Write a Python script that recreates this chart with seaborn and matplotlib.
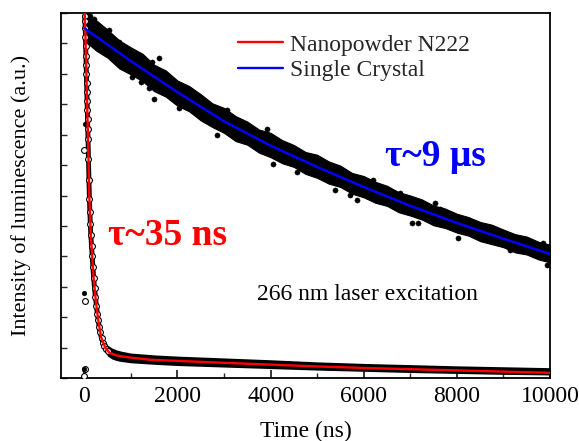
import numpy as np
import pandas as pd
import matplotlib
matplotlib.use("Agg")
import matplotlib.pyplot as plt
import seaborn as sns
from matplotlib.lines import Line2D
from matplotlib.ticker import MultipleLocator

# ---------------- data ----------------
# Single crystal fit (blue), time in ns, intensity in arbitrary units (0..12 axis)
sc_fit_t = [0, 1000, 2000, 3000, 4000, 5000, 6000, 7000, 8000, 9000, 10000]
sc_fit_v = [11.5, 10.42, 9.4, 8.44, 7.64, 6.94, 6.28, 5.66, 5.1, 4.58, 4.08]

# Single crystal data cloud: dense band edges, every 250 ns
sc_band_t = list(range(0, 10001, 250))
sc_band_hi = [12.0, 11.77, 11.45, 11.10, 10.87, 10.66, 10.30, 10.11, 9.78, 9.60,
              9.33, 9.03, 8.88, 8.61, 8.43, 8.17, 8.06, 7.82, 7.66, 7.43, 7.34,
              7.12, 6.98, 6.74, 6.64, 6.45, 6.32, 6.11, 6.00, 5.87, 5.67, 5.57,
              5.40, 5.29, 5.13, 5.04, 4.88, 4.73, 4.65, 4.48, 4.38]
sc_band_lo = [11.10, 10.77, 10.53, 10.18, 9.98, 9.76, 9.43, 9.25, 8.95, 8.77,
              8.47, 8.25, 8.06, 7.79, 7.67, 7.41, 7.26, 7.06, 6.94, 6.71, 6.58,
              6.39, 6.28, 6.06, 5.94, 5.76, 5.66, 5.45, 5.34, 5.21, 5.02, 4.93,
              4.78, 4.68, 4.50, 4.40, 4.30, 4.13, 4.06, 3.90, 3.80]
# scattered single-crystal points outside the dense band
sc_out_t = [538, 753, 1613, 1462, 1032, 1398, 1505, 1226, 2043, 2194, 2409, 2839,
            3054, 1828, 3914, 4043, 4559, 5376, 5699, 6194, 5849, 4796, 7032,
            7161, 7527, 7634, 8022, 8925, 9140, 9849, 9935, 6774, 60, 120, 200]
sc_out_v = [11.45, 11.05, 10.53, 10.39, 9.9, 9.54, 9.18, 9.74, 8.88, 9.38, 9.14,
            7.99, 8.82, 9.8, 8.19, 7.04, 6.78, 6.18, 6.02, 6.51, 5.86, 7.11, 5.1,
            5.1, 5.76, 5.56, 4.61, 4.8, 4.21, 4.44, 3.72, 6.09, 11.95, 11.9, 11.8]

# Nanopowder N222 fit (red)
np_fit_t = [0, 10, 20, 40, 70, 110, 140, 170, 200, 250, 300, 360, 450, 540, 700,
            900, 1400, 2200, 3000, 4000, 5000, 6000, 7000, 8000, 9000, 10000]
np_fit_v = [12.5, 11.9, 11.5, 10.3, 8.5, 5.9, 4.7, 4.0, 3.3, 2.5, 1.9, 1.35, 1.0,
            0.83, 0.74, 0.69, 0.6, 0.55, 0.5, 0.44, 0.38, 0.33, 0.29, 0.25, 0.21, 0.17]

# Nanopowder data (open circles) on the fast decay
np_pts_t = [10, 15, 20, 25, 30, 35, 40, 45, 50, 55, 60, 65, 70, 75, 80, 90, 100,
            110, 120, 130, 140, 155, 170, 185, 200, 220, 240, 260, 280, 300, 320,
            340, 370, 400, 430, 460, 500, 0, 20, 0, 10]
np_pts_v = [11.9, 11.75, 11.5, 11.2, 10.9, 10.6, 10.3, 10.0, 9.7, 9.4, 9.1, 8.8,
            8.5, 8.2, 7.85, 7.2, 6.5, 5.9, 5.45, 5.05, 4.7, 4.35, 4.0, 3.65, 3.3,
            2.95, 2.65, 2.38, 2.12, 1.9, 1.68, 1.5, 1.3, 1.16, 1.05, 0.96, 0.88,
            7.5, 2.53, 0.05, 0.3]
# stray filled points of the nanopowder record
np_dots_t = [0, 20, 0]
np_dots_v = [2.8, 8.36, 0.3]

# Nanopowder slow tail: dense band edges
np_band_t = [300, 400, 500, 600, 700, 800, 1000, 1500, 2000, 3000, 4000, 5000,
             6000, 7000, 8000, 9000, 10000]
np_band_hi = [2.1, 1.35, 1.08, 0.98, 0.92, 0.88, 0.82, 0.76, 0.72, 0.66, 0.6,
              0.53, 0.48, 0.44, 0.4, 0.37, 0.34]
np_band_lo = [1.7, 1.0, 0.72, 0.62, 0.57, 0.54, 0.5, 0.45, 0.41, 0.36, 0.31,
              0.26, 0.22, 0.18, 0.15, 0.12, 0.1]

x_ticks = [0, 2000, 4000, 6000, 8000, 10000]
legend_labels = ["Nanopowder N222", "Single Crystal"]

# ---------------- style ----------------
sns.set_theme(style="ticks")
plt.rcParams["font.family"] = ["Liberation Serif", "DejaVu Serif"]

fig = plt.figure(figsize=(5.79, 4.41), dpi=100)
ax = fig.add_axes([61 / 579, 1 - 378 / 441, (550 - 61) / 579, (378 - 13) / 441])

# single crystal data
ax.fill_between(sc_band_t, sc_band_lo, sc_band_hi, color="black", lw=0.8,
                edgecolor="black", zorder=2)
sns.scatterplot(x=sc_out_t, y=sc_out_v, ax=ax, color="black", s=14,
                edgecolor="black", linewidth=0.3, zorder=2, legend=False)

# nanopowder data
ax.fill_between(np_band_t, np_band_lo, np_band_hi, color="black", lw=0, zorder=2)
sns.lineplot(x=np_pts_t[:37], y=np_pts_v[:37], ax=ax, color="black", lw=3.5,
             sort=False, estimator=None, zorder=2, legend=False)
ax.plot(np_pts_t, np_pts_v, ls="none", marker="o", ms=4.2, mfc="white",
        mec="black", mew=0.8, zorder=3)
sns.scatterplot(x=np_dots_t, y=np_dots_v, ax=ax, color="black", s=12,
                edgecolor="black", zorder=3, legend=False)

# fits
sns.lineplot(x=np_fit_t, y=np_fit_v, ax=ax, color="#ff0000", lw=1.7,
             sort=False, estimator=None, zorder=4, legend=False)
sns.lineplot(x=sc_fit_t, y=sc_fit_v, ax=ax, color="#0000ff", lw=1.8,
             sort=False, estimator=None, zorder=4, legend=False)

ax.set_xlim(-500, 10000)
ax.set_ylim(0, 12)
ax.set_xticks(x_ticks)
ax.set_xticklabels([str(v) for v in x_ticks])
ax.xaxis.set_minor_locator(MultipleLocator(1000))
ax.yaxis.set_major_locator(MultipleLocator(1))
ax.set_yticklabels([])
ax.tick_params(axis="x", which="major", direction="in", length=6, width=1.1,
               labelsize=17, pad=6, colors="black")
ax.tick_params(axis="x", which="minor", direction="in", length=3.5, width=1.0)
ax.tick_params(axis="y", which="major", direction="in", length=4, width=1.0)
for s in ax.spines.values():
    s.set_linewidth(1.3)
    s.set_color("black")
    s.set_visible(True)

ax.set_xlabel("Time (ns)", fontsize=17, color="black")
ax.set_ylabel("Intensity of luminescence (a.u.)", fontsize=16, color="black")
ax.xaxis.set_label_coords(0.5, -0.118)
ax.yaxis.set_label_coords(-0.062, 0.5)

ax.text(1785, 4.67, "τ~35 ns", color="#ff0000", fontsize=27, fontweight="bold",
        ha="center", va="center")
ax.text(7548, 7.27, "τ~9 μs", color="#0000ff", fontsize=27, fontweight="bold",
        ha="center", va="center")
ax.text(6086, 2.73, "266 nm laser excitation", color="black", fontsize=17,
        ha="center", va="center")

handles = [Line2D([0], [0], color="#ff0000", lw=1.7),
           Line2D([0], [0], color="#0000ff", lw=1.7)]
ax.legend(handles, legend_labels, loc="upper left",
          bbox_to_anchor=((238 - 61) / 489, (378 - 34) / 365), frameon=False,
          fontsize=17, handlelength=1.9, handletextpad=0.3, labelspacing=0.18,
          borderpad=0, borderaxespad=0)

fig.savefig("out.png", dpi=100)
